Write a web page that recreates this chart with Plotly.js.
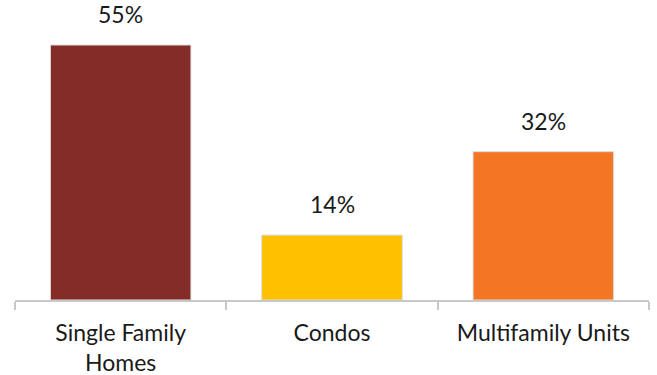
<!DOCTYPE html>
<html>
<head>
<meta charset="utf-8">
<script src="https://cdn.plot.ly/plotly-3.0.1.min.js"></script>
<style>
  html, body { margin: 0; padding: 0; background: #fff; }
  #chart { width: 657px; height: 375px; }
</style>
</head>
<body>
<div id="chart"></div>
<script>
const categories = ["Single Family<br>Homes", "Condos", "Multifamily Units"];
const values = [55, 14, 32];
const valueLabels = ["55%", "14%", "32%"];
const barColors = ["#842C27", "#FFC000", "#F47524"];

const FONT = "Lato, 'Open Sans', sans-serif";

const trace = {
  type: "bar",
  x: categories,
  y: values,
  marker: { color: barColors, line: { color: "#DCDCDC", width: 1 } },
  hoverinfo: "skip",
  width: 0.665
};

const annotations = categories.map((c, i) => ({
  x: c, y: values[i], xref: "x", yref: "y",
  text: valueLabels[i], showarrow: false,
  yanchor: "bottom", yshift: 15,
  font: { family: FONT, size: 23, color: "#1a1a1a" }
}));

const layout = {
  width: 657, height: 375,
  margin: { l: 15, r: 8, t: 20, b: 75 },
  paper_bgcolor: "#fff", plot_bgcolor: "#fff",
  showlegend: false,
  bargap: 0.335,
  xaxis: {
    type: "category",
    showline: true, linecolor: "#C8C8C8", linewidth: 2,
    ticks: "outside", tickson: "boundaries", ticklen: 8, tickwidth: 2, tickcolor: "#C8C8C8",
    tickfont: { family: FONT, size: 23, color: "#1a1a1a" },
    ticklabelstandoff: 11,
    showgrid: false, zeroline: false, fixedrange: true
  },
  yaxis: {
    range: [0, 60.4], visible: false, showgrid: false, zeroline: false, fixedrange: true
  },
  annotations: annotations
};

Plotly.newPlot("chart", [trace], layout, { displayModeBar: false, staticPlot: true });
</script>
</body>
</html>
